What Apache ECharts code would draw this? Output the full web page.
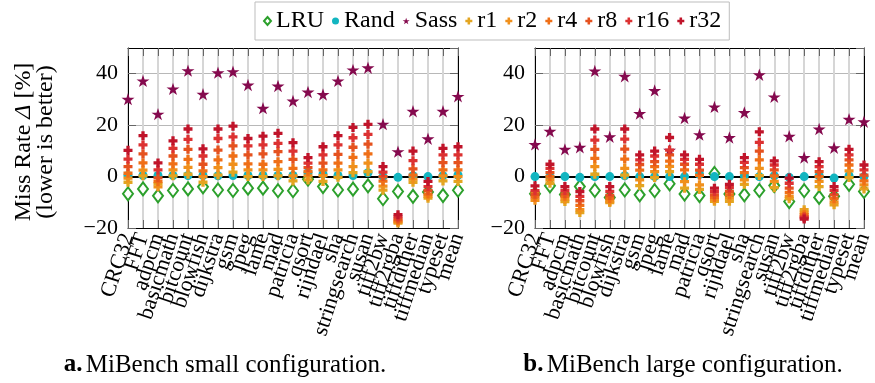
<!DOCTYPE html>
<html><head><meta charset="utf-8">
<script src="https://cdn.jsdelivr.net/npm/echarts@6/dist/echarts.min.js"></script>
<style>html,body{margin:0;padding:0;background:#fff}#c{width:875px;height:383px}</style>
</head><body><div id="c"></div>
<script>
const categories = ['CRC32','FFT','adpcm','basicmath','bitcount','blowfish','dijkstra','gsm','jpeg','lame','mad','patricia','qsort','rijndael','sha','stringsearch','susan','tiff2bw','tiff2rgba','tiffdither','tiffmedian','typeset','mean'];
const yTicks = [-20, 0, 20, 40];
const seriesNames = ['LRU','Rand','Sass','r1','r2','r4','r8','r16','r32'];

// MiBench small configuration
const smallLRU  = [-6.7,-4.8,-7.5,-5.4,-4.8,-4.0,-5.2,-5.4,-4.5,-4.5,-5.5,-5.5,-1.0,-3.9,-5.2,-4.9,-3.6,-8.6,-5.8,-7.7,-6.0,-7.4,-5.3];
const smallRand = [0.4,0.4,0.4,0.4,0.4,0.4,0.3,0.4,0.4,0.4,0.4,0.4,1.5,1.0,0.4,0.4,1.5,0.0,-0.3,0.3,0.0,0.3,0.6];
const smallSass = [30.1,37.2,24.3,34.1,41.2,32.0,40.4,40.8,35.6,26.6,35.2,29.4,32.9,31.9,37.2,41.5,42.3,20.4,9.7,25.4,14.7,25.4,31.2];
const smallR1  = [-2.2,0.3,-2.8,0.3,0.9,-2.2,0.6,1.7,0.0,0.0,0.3,-1.7,-1.3,-1.9,-0.3,1.5,1.9,-5.3,-18.1,-2.2,-8.4,-1.7,-1.9];
const smallR2  = [-0.6,2.5,-4.0,2.6,3.6,0.0,3.5,4.8,2.6,2.6,2.8,0.3,0.3,0.4,2.6,3.9,5.2,-3.7,-17.7,-1.0,-7.7,0.3,0.0];
const smallR4  = [1.3,5.3,-2.0,4.9,6.7,2.2,6.5,8.0,4.9,4.8,5.8,3.2,1.9,2.6,5.2,7.5,8.8,-1.8,-17.2,0.6,-6.8,2.6,2.6];
const smallR8  = [3.9,8.8,-0.5,8.0,10.6,4.8,10.3,11.9,8.4,8.8,9.7,6.7,3.5,5.2,8.6,11.4,12.6,0.0,-16.5,3.0,-5.5,5.4,5.4];
const smallR16 = [6.8,12.3,2.6,11.0,14.5,8.0,14.8,15.4,11.9,12.3,12.9,9.9,5.2,8.4,12.3,15.1,16.4,1.7,-15.7,6.2,-3.9,8.4,8.4];
const smallR32 = [10.2,15.9,5.3,13.9,18.5,10.8,18.5,19.6,14.8,15.7,16.8,13.2,7.4,11.6,15.9,19.1,20.3,3.9,-14.8,9.9,-1.9,11.0,11.6];

// MiBench large configuration
const largeLRU  = [-6.7,-3.6,-7.0,-3.9,-5.4,-8.1,-5.2,-7.1,-5.5,-2.8,-6.8,-7.4,1.2,-6.8,-7.1,-5.4,-3.5,-9.7,-5.5,-8.1,-7.7,-3.0,-5.8];
const largeRand = [0,0,0,-0.3,0,0,0.3,0,0,0,0,0.9,0,0,0.3,0,0.3,-0.3,0,0.3,-0.6,0.3,0];
const largeSass = [12.5,17.6,10.6,11.4,41.1,15.5,39.0,24.5,33.5,10.3,22.8,16.3,27.1,15.2,24.9,39.6,31.0,15.7,7.4,18.5,11.2,22.3,21.3];
const largeR1  = [-6.2,-2.6,-9.7,-14.0,0.9,-10.1,0.6,-3.5,-0.4,1.9,-4.5,-5.0,-9.6,-9.6,-3.0,0.4,-4.3,-8.6,-12.9,-3.9,-11.0,-0.4,-4.8];
const largeR2  = [-9.2,-1.3,-8.8,-12.9,3.9,-9.7,3.2,-1.3,1.9,4.0,-2.0,-3.2,-9.0,-8.4,-1.3,3.2,-1.9,-7.7,-13.9,-1.9,-9.9,2.2,-3.2];
const largeR4  = [-8.0,0.0,-7.7,-11.2,7.1,-8.6,6.8,2.5,3.9,6.0,2.6,0.5,-8.1,-7.1,1.5,6.5,0.3,-6.2,-14.8,0.0,-8.6,4.5,-1.7];
const largeR8  = [-6.9,1.5,-6.7,-9.4,10.6,-7.4,10.7,4.7,5.8,8.4,4.8,2.5,-7.1,-5.8,3.5,9.9,2.6,-4.5,-15.5,1.9,-7.1,6.5,0.6];
const largeR16 = [-5.5,3.2,-5.4,-7.7,14.2,-5.8,14.6,6.5,8.0,10.3,6.7,4.8,-5.8,-4.3,5.5,13.3,4.5,-2.6,-16.0,3.9,-5.4,8.4,2.6];
const largeR32 = [-3.6,4.8,-3.9,-5.8,18.5,-3.9,18.5,8.4,9.9,15.2,8.4,6.7,-4.5,-3.0,7.4,17.4,6.1,-0.6,-16.5,5.8,-3.9,10.6,4.5];

const smallData = [smallLRU, smallRand, smallSass, smallR1, smallR2, smallR4, smallR8, smallR16, smallR32];
const largeData = [largeLRU, largeRand, largeSass, largeR1, largeR2, largeR4, largeR8, largeR16, largeR32];

const FONT = 'Liberation Serif';
const colors = ['#2ca02c','#12b5c0','#850a4e','#e3a521','#f0901c','#ef6f17','#e5521f','#dc3232','#c0142a'];
const STAR = 'path://M0,-100L22.45,-30.9L95.1,-30.9L36.3,11.8L58.8,80.9L0,38.2L-58.8,80.9L-36.3,11.8L-95.1,-30.9L-22.45,-30.9Z';
const PLUS = 'path://M-1.1,-3L1.1,-3L1.1,-1.1L3,-1.1L3,1.1L1.1,1.1L1.1,3L-1.1,3L-1.1,1.1L-3,1.1L-3,-1.1L-1.1,-1.1Z';
const symbols = ['emptyDiamond','circle',STAR,PLUS,PLUS,PLUS,PLUS,PLUS,PLUS];
const sizes = [[10,13],9,13,9,9,9,9,9,9];

const grids = [
  {left:128, top:48, width:330, height:180},
  {left:535, top:48, width:329, height:180}
];

function minusFmt(v){ return v < 0 ? '\u2212' + Math.abs(v) : String(v); }

const xAxes = [], yAxes = [], series = [];
grids.forEach((g, gi) => {
  xAxes.push({
    type:'category', gridIndex:gi, data:categories, boundaryGap:false, position:'bottom',
    axisLine:{show:true, onZero:false, lineStyle:{color:'#000', width:1}},
    axisTick:{show:true, inside:true, length:8, interval:0, lineStyle:{color:'#666'}},
    axisLabel:{show:true, interval:0, rotate:72, margin:6, color:'#000', fontFamily:FONT, fontSize:22},
    splitLine:{show:true, interval:0, lineStyle:{color:'#d6d6d6', width:2}}
  });
  xAxes.push({
    type:'category', gridIndex:gi, data:categories, boundaryGap:false, position:'top',
    axisLine:{show:true, onZero:false, lineStyle:{color:'#000', width:1}},
    axisTick:{show:true, inside:true, length:8, interval:0, lineStyle:{color:'#666'}},
    axisLabel:{show:false}, splitLine:{show:false}
  });
  yAxes.push({
    type:'value', gridIndex:gi, min:-20, max:50, interval:20, position:'left',
    axisLine:{show:true, lineStyle:{color:'#000', width:1}},
    axisTick:{show:true, inside:true, length:8, lineStyle:{color:'#666'}},
    axisLabel:{show:true, showMaxLabel:false, margin:10, color:'#000', fontFamily:FONT, fontSize:22,
      formatter: v => yTicks.indexOf(v) >= 0 ? minusFmt(v) : ''},
    splitLine:{show:true, lineStyle:{color:'#b8b8b8', width:1}}
  });
  yAxes.push({
    type:'value', gridIndex:gi, min:-20, max:50, interval:20, position:'right',
    axisLine:{show:true, lineStyle:{color:'#000', width:1}},
    axisTick:{show:true, inside:true, length:8, lineStyle:{color:'#666'}},
    axisLabel:{show:false}, splitLine:{show:false}
  });
  const dataSet = gi === 0 ? smallData : largeData;
  seriesNames.forEach((name, si) => {
    const s = {
      type:'scatter', name:name, xAxisIndex:gi*2, yAxisIndex:gi*2,
      data:dataSet[si], symbol:symbols[si], symbolSize:sizes[si], symbolKeepAspect:true,
      itemStyle:{color:colors[si], opacity:1}, emphasis:{disabled:true}, silent:true, animation:false
    };
    if (si === 0) {
      s.markLine = {z:1, silent:true, symbol:['none','none'], label:{show:false}, animation:false,
        lineStyle:{color:'#000', width:2, type:'solid'}, data:[{yAxis:0}]};
    }
    series.push(s);
  });
});

const chart = echarts.init(document.getElementById('c'), null, {renderer:'canvas'});
chart.setOption({
  animation:false,
  backgroundColor:'#fff',
  grid: grids.map(g => Object.assign({containLabel:false, outerBoundsMode:'none'}, g)),
  legend:{
    data:seriesNames, left:255, top:2, orient:'horizontal',
    itemWidth:7, itemHeight:8, itemGap:8, padding:[7,8],
    borderColor:'#bdbdbd', borderWidth:1, backgroundColor:'#fff',
    textStyle:{fontFamily:FONT, fontSize:24, color:'#000'}, selectedMode:false
  },
  xAxis:xAxes, yAxis:yAxes, series:series,
  graphic:[
    {type:'text', x:35, y:142, rotation:Math.PI/2, silent:true,
      style:{text:'{n|Miss Rate }{i|\u0394}{n| [%]}\n{n|(lower is better)}', align:'center', verticalAlign:'middle',
        rich:{n:{fontFamily:FONT, fontSize:24, lineHeight:22, fill:'#000'}, i:{fontFamily:FONT, fontSize:24, fontStyle:'italic', lineHeight:22, fill:'#000'}}}},
    {type:'text', x:225, y:365, silent:true,
      style:{text:'{b|a.} {n|MiBench small configuration.}', align:'center', verticalAlign:'middle',
        rich:{b:{fontFamily:FONT, fontSize:25, fontWeight:'bold', fill:'#000'}, n:{fontFamily:FONT, fontSize:25, fill:'#000'}}}},
    {type:'text', x:683, y:365, silent:true,
      style:{text:'{b|b.} {n|MiBench large configuration.}', align:'center', verticalAlign:'middle',
        rich:{b:{fontFamily:FONT, fontSize:25, fontWeight:'bold', fill:'#000'}, n:{fontFamily:FONT, fontSize:25, fill:'#000'}}}}
  ]
});
</script></body></html>
